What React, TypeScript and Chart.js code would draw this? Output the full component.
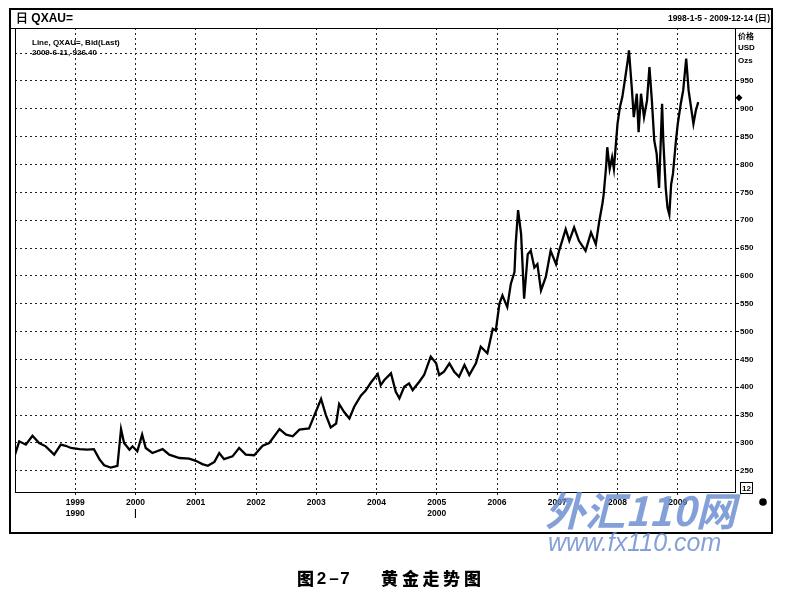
import React, { useEffect, useRef } from 'react';
import { Chart, registerables } from 'chart.js';

Chart.register(...registerables);

// Time (fractional year) of each sampled point
const dates = [
  1998.00, 1998.07, 1998.18, 1998.29, 1998.40, 1998.51, 1998.65, 1998.76, 1998.84, 1998.93,
  1999.07, 1999.20, 1999.31, 1999.40, 1999.48, 1999.59, 1999.70, 1999.76, 1999.81, 1999.90, 1999.95,
  2000.03, 2000.11, 2000.17, 2000.28, 2000.45, 2000.56, 2000.73, 2000.89,
  2001.00, 2001.11, 2001.20, 2001.31, 2001.39, 2001.47, 2001.61, 2001.72, 2001.83, 2001.97,
  2002.11, 2002.22, 2002.39, 2002.50, 2002.61, 2002.72, 2002.88, 2002.97,
  2003.08, 2003.16, 2003.24, 2003.33, 2003.38, 2003.46, 2003.55, 2003.63, 2003.74, 2003.82, 2003.91,
  2004.02, 2004.07, 2004.13, 2004.24, 2004.32, 2004.38, 2004.46, 2004.54, 2004.60, 2004.71, 2004.79, 2004.90, 2004.99,
  2005.04, 2005.12, 2005.21, 2005.29, 2005.37, 2005.46, 2005.54, 2005.65, 2005.73, 2005.84, 2005.93, 2005.98,
  2006.04, 2006.09, 2006.17, 2006.23, 2006.29, 2006.31, 2006.35, 2006.40, 2006.45, 2006.51, 2006.56, 2006.62,
  2006.67, 2006.73, 2006.81, 2006.89, 2006.98,
  2007.03, 2007.09, 2007.14, 2007.20, 2007.28, 2007.36, 2007.47, 2007.56, 2007.64, 2007.70, 2007.75, 2007.77,
  2007.81, 2007.83, 2007.87, 2007.91, 2007.94,
  2008.00, 2008.04, 2008.08, 2008.13, 2008.17, 2008.19, 2008.24, 2008.27, 2008.32, 2008.35, 2008.39, 2008.44,
  2008.49, 2008.53, 2008.57, 2008.61, 2008.65, 2008.69, 2008.74, 2008.76, 2008.80, 2008.83, 2008.86, 2008.89,
  2008.92, 2008.97,
  2009.00, 2009.05, 2009.09, 2009.14, 2009.18, 2009.22, 2009.26, 2009.30, 2009.34,
];

// Gold price, USD per ounce
const prices = [
  279, 303, 297, 313, 300, 294, 279, 297, 295, 291,
  289, 288, 289, 271, 260, 256, 259, 325, 300, 288, 294,
  285, 315, 291, 282, 289, 279, 273, 272,
  268, 262, 259, 266, 282, 271, 276, 291, 279, 278,
  295, 300, 325, 315, 312, 324, 326, 350,
  379, 350, 328, 335, 370, 356, 344, 365, 385, 394, 409,
  424, 404, 413, 425, 392, 380, 401, 407, 395, 410, 422, 455, 443,
  422, 428, 443, 428, 419, 440, 422, 443, 473, 461, 505, 502,
  550, 565, 544, 586, 607, 657, 718, 675, 559, 639, 645, 615,
  621, 574, 598, 645, 621,
  645, 666, 684, 663, 687, 663, 645, 678, 657, 700, 730, 746,
  795, 831, 792, 813, 792,
  873, 903, 921, 957, 987, 1005, 933, 885, 927, 858, 927, 885,
  915, 975, 915, 843, 819, 758, 909, 843, 758, 722, 710, 764,
  783, 843,
  873, 909, 933, 990, 933, 903, 873, 897, 912,
];

const yearTicks = [1999, 2000, 2001, 2002, 2003, 2004, 2005, 2006, 2007, 2008, 2009];
const subLabelYears = [1999, 2000, 2005];
const subLabels = ['1990', '|', '2000'];
const priceTicks = [250, 300, 350, 400, 450, 500, 550, 600, 650, 700, 750, 800, 850, 900, 950, 1000];
const priceLabelMax = 950;
const axisMin = 1998.0;
const axisMax = 2009.95;
const priceMin = 212;
const priceMax = 1045;

const headerLeft = '日 QXAU=';
const headerRight = '1998-1-5 - 2009-12-14 (日)';
const infoLine1 = 'Line, QXAU=, Bid(Last)';
const infoLine2 = '2009-6-11, 926.40';
const unitLines = ['价格', 'USD', 'Ozs'];
const lastMarkerPrice = 920;
const captionLeft = ['图', '2', '–', '7'];
const captionRight = ['黄', '金', '走', '势', '图'];

const SANS = '"Liberation Sans", Arial, sans-serif';
const CJK = '"Noto Sans CJK SC", "Noto Sans", sans-serif';

export default function App() {
  const ref = useRef<HTMLCanvasElement>(null);

  useEffect(() => {
    const canvas = ref.current;
    if (!canvas) return;

    const decor = {
      id: 'decor',
      beforeDraw(chart: any) {
        const c = chart.ctx;
        c.save();
        c.fillStyle = '#fff';
        c.fillRect(0, 0, chart.width, chart.height);
        c.restore();
      },
      afterDraw(chart: any) {
        const c = chart.ctx as CanvasRenderingContext2D;
        const a = chart.chartArea;
        const y = chart.scales.y;
        c.save();
        // plot borders (top/left)
        c.strokeStyle = '#000';
        c.lineWidth = 1;
        c.beginPath();
        c.moveTo(10, a.top + 0.5);
        c.lineTo(772, a.top + 0.5);
        c.moveTo(a.left + 0.5, a.top);
        c.lineTo(a.left + 0.5, a.bottom);
        c.stroke();
        // outer frame
        c.lineWidth = 2;
        c.strokeRect(10, 9, 762, 524);

        // header
        c.fillStyle = '#000';
        c.textBaseline = 'middle';
        c.font = `bold 12px ${SANS}`;
        c.textAlign = 'left';
        c.fillText(headerLeft, 16, 18.5);
        c.font = `bold 8.5px ${SANS}`;
        c.textAlign = 'right';
        c.fillText(headerRight, 770, 18.5);

        // info text
        c.textAlign = 'left';
        c.font = `bold 8px ${SANS}`;
        c.fillText(infoLine1, 32, 43);
        c.fillText(infoLine2, 32, 53);

        // units
        c.font = `bold 8px ${CJK}`;
        c.fillText(unitLines[0], 738, 36);
        c.font = `bold 8px ${SANS}`;
        c.fillText(unitLines[1], 738, 48);
        c.fillText(unitLines[2], 738, 61);

        // last-value marker
        const my = y.getPixelForValue(lastMarkerPrice);
        c.beginPath();
        c.moveTo(739, my - 3.5);
        c.lineTo(742.5, my);
        c.lineTo(739, my + 3.5);
        c.lineTo(735.5, my);
        c.closePath();
        c.fill();

        // small icon box and dot
        c.lineWidth = 1;
        c.strokeRect(740.5, 482.5, 12, 11);
        c.font = `bold 8px ${SANS}`;
        c.textAlign = 'center';
        c.fillText('12', 746.5, 488.5);
        c.beginPath();
        c.arc(763, 502, 3.8, 0, Math.PI * 2);
        c.fill();

        // watermark
        c.fillStyle = 'rgba(100,136,206,0.8)';
        c.textAlign = 'left';
        c.font = `italic bold 40px ${CJK}`;
        c.fillText('外汇110网', 545, 511);
        c.font = `italic 25px ${SANS}`;
        c.fillText('www.fx110.com', 548, 544);

        // caption
        c.fillStyle = '#000';
        c.textAlign = 'center';
        const capX1 = [305.5, 321.5, 334, 345];
        captionLeft.forEach((t, i) => {
          c.font = i === 0 ? `900 17px ${CJK}` : `bold 17px ${SANS}`;
          c.fillText(t, capX1[i], 579);
        });
        c.font = `900 17px ${CJK}`;
        const capX2 = [389.5, 410.5, 431, 451.5, 472.5];
        captionRight.forEach((t, i) => c.fillText(t, capX2[i], 579));
        c.restore();
      },
    };

    const chart = new Chart(canvas, {
      type: 'line',
      data: {
        datasets: [
          {
            data: dates.map((d, i) => ({ x: d, y: prices[i] })),
            borderColor: '#000',
            borderWidth: 2.3,
            pointRadius: 0,
            tension: 0,
            fill: false,
          },
        ],
      },
      options: {
        animation: false,
        responsive: false,
        devicePixelRatio: 1,
        layout: { padding: { left: 15, top: 28, right: 17, bottom: 71 } },
        plugins: { legend: { display: false }, tooltip: { enabled: false } },
        scales: {
          x: {
            type: 'linear',
            min: axisMin,
            max: axisMax,
            afterBuildTicks: (s: any) => {
              s.ticks = yearTicks.map((v) => ({ value: v }));
            },
            afterFit: (s: any) => {
              s.height = 41;
            },
            grid: {
              color: '#222',
              lineWidth: 1,
              drawTicks: true,
              tickLength: 4,
              tickColor: '#222',
              tickBorderDash: [2, 2],
            },
            border: { display: true, color: '#000', width: 1, dash: [2, 3] },
            ticks: {
              autoSkip: false,
              maxRotation: 0,
              padding: 2,
              color: '#000',
              font: { family: SANS, size: 8.5, weight: 'bold' },
              callback: (v: any) => {
                const idx = subLabelYears.indexOf(Number(v));
                return idx >= 0 ? [String(v), subLabels[idx]] : String(v);
              },
            },
          },
          y: {
            position: 'right',
            min: priceMin,
            max: priceMax,
            afterBuildTicks: (s: any) => {
              s.ticks = priceTicks.map((v) => ({ value: v }));
            },
            afterFit: (s: any) => {
              s.width = 37;
            },
            grid: {
              color: '#222',
              lineWidth: 1,
              drawTicks: true,
              tickLength: 4,
              tickColor: '#000',
            },
            border: { display: true, color: '#000', width: 1, dash: [2, 3] },
            ticks: {
              padding: 1,
              color: '#000',
              font: { family: SANS, size: 8, weight: 'bold' },
              callback: (v: any) => (Number(v) > priceLabelMax ? '' : String(v)),
            },
          },
        },
      },
      plugins: [decor],
    } as any);

    return () => chart.destroy();
  }, []);

  return (
    <div style={{ position: 'fixed', left: 0, top: 0, width: 789, height: 604, background: '#fff' }}>
      <canvas ref={ref} width={789} height={604} style={{ display: 'block', width: 789, height: 604 }} />
    </div>
  );
}
